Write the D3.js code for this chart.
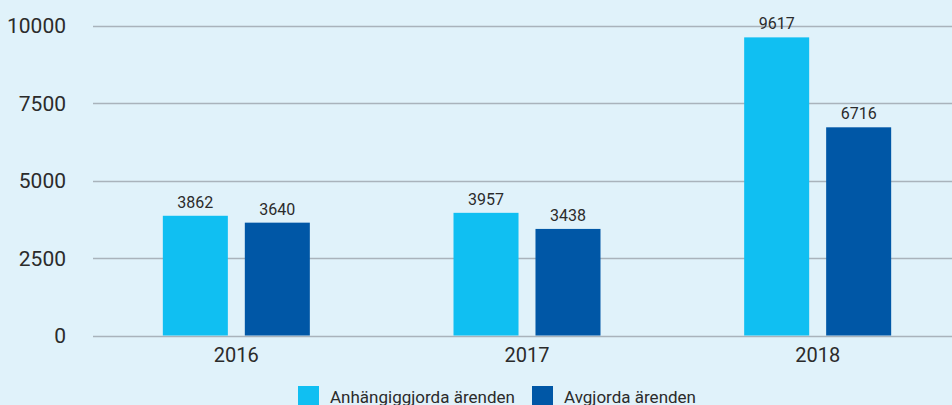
<!DOCTYPE html>
<html>
<head>
<meta charset="utf-8">
<script src="https://cdn.jsdelivr.net/npm/d3@7"></script>
<style>
  html, body { margin: 0; padding: 0; background: #e0f2fa; }
  svg { display: block; font-family: Roboto, sans-serif; }
</style>
</head>
<body>
<div id="viz"></div>
<script>
// data
var years = ['2016', '2017', '2018'];
var seriesNames = ['Anhängiggjorda ärenden', 'Avgjorda ärenden'];
var anhangiggjorda = [3862, 3957, 9617];
var avgjorda = [3640, 3438, 6716];
var yTicks = [0, 2500, 5000, 7500, 10000];
var colors = ['#10bff2', '#0057a6'];

var width = 952, height = 405;

var svg = d3.select('#viz').append('svg')
  .attr('width', width)
  .attr('height', height);

var yScale = d3.scaleLinear()
  .domain([0, 10000])
  .range([335.5, 25.5]);

var xScale = d3.scaleBand()
  .domain(years)
  .range([91, 963])
  .paddingInner(0)
  .paddingOuter(0);

var inner = d3.scaleBand()
  .domain(seriesNames)
  .range([xScale.bandwidth() / 2 - 73.5, xScale.bandwidth() / 2 + 73.5])
  .paddingInner(0.207)
  .paddingOuter(0);

// gridlines
svg.append('g')
  .selectAll('line').data(yTicks)
  .enter().append('line')
    .attr('x1', 93).attr('x2', width)
    .attr('y1', function(d) { return Math.round(yScale(d)) + 0.5; })
    .attr('y2', function(d) { return Math.round(yScale(d)) + 0.5; })
    .attr('stroke', '#a9b3bb')
    .attr('stroke-width', 1.3);

// y labels
svg.append('g')
  .selectAll('text').data(yTicks)
  .enter().append('text')
    .attr('x', 66)
    .attr('y', function(d) { return yScale(d); })
    .attr('dy', '0.36em')
    .attr('text-anchor', 'end')
    .attr('font-size', 21)
    .attr('fill', '#2b2b2b')
    .text(function(d) { return d; });

var rows = years.map(function(y, i) {
  return { year: y, values: [anhangiggjorda[i], avgjorda[i]] };
});

var groups = svg.append('g')
  .selectAll('g').data(rows)
  .enter().append('g')
    .attr('transform', function(d) { return 'translate(' + xScale(d.year) + ',0)'; });

groups.selectAll('rect')
  .data(function(d) { return d.values.map(function(v, j) { return { name: seriesNames[j], value: v, i: j }; }); })
  .enter().append('rect')
    .attr('x', function(d) { return inner(d.name); })
    .attr('width', inner.bandwidth())
    .attr('y', function(d) { return yScale(d.value); })
    .attr('height', function(d) { return yScale(0) - yScale(d.value); })
    .attr('fill', function(d) { return colors[d.i]; });

groups.selectAll('text.val')
  .data(function(d) { return d.values.map(function(v, j) { return { name: seriesNames[j], value: v }; }); })
  .enter().append('text')
    .attr('class', 'val')
    .attr('x', function(d) { return inner(d.name) + inner.bandwidth() / 2; })
    .attr('y', function(d) { return yScale(d.value) - 8; })
    .attr('text-anchor', 'middle')
    .attr('font-size', 16)
    .attr('fill', '#2b2b2b')
    .text(function(d) { return d.value; });

// x labels
svg.append('g')
  .selectAll('text').data(years)
  .enter().append('text')
    .attr('x', function(d) { return xScale(d) + xScale.bandwidth() / 2; })
    .attr('y', 362)
    .attr('text-anchor', 'middle')
    .attr('font-size', 20)
    .attr('fill', '#2b2b2b')
    .text(function(d) { return d; });

// legend (cut off at the bottom edge, as in the original)
var legendX = [298, 532];
var legend = svg.append('g')
  .selectAll('g').data(seriesNames)
  .enter().append('g')
    .attr('transform', function(d, i) { return 'translate(' + legendX[i] + ',386)'; });

legend.append('rect')
  .attr('width', 21).attr('height', 21)
  .attr('fill', function(d, i) { return colors[i]; });

legend.append('text')
  .attr('x', 32)
  .attr('y', 17)
  .attr('font-size', 17)
  .attr('fill', '#2b2b2b')
  .text(function(d) { return d; });
</script>
</body>
</html>
